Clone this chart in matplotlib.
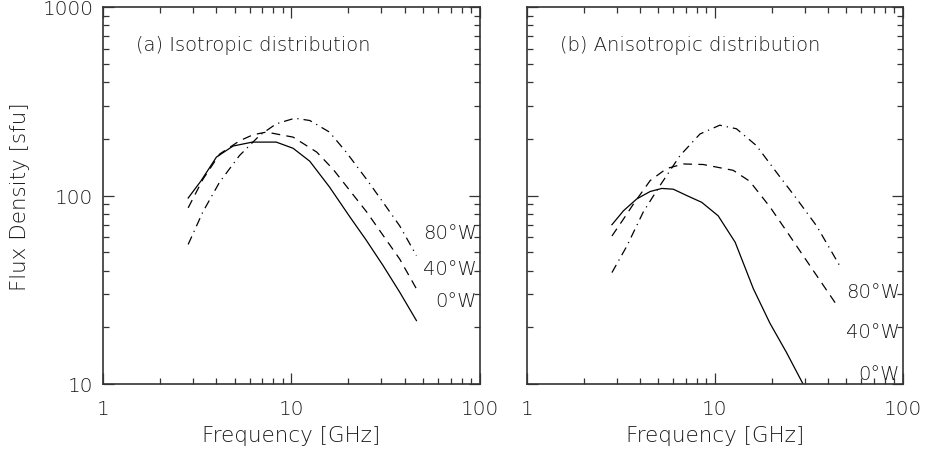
import matplotlib.pyplot as plt
from matplotlib.ticker import LogLocator, NullFormatter, FixedLocator, FixedFormatter

# panel (a) isotropic
freq_a = [2.83, 3.3, 4.0, 4.9, 6.2, 8.3, 10.2, 12.5, 15.9, 20.4, 24.9, 30.6, 37.5, 46.0]
iso_0w = [97, 119, 160, 183, 192, 192, 178, 152, 111, 77, 58, 42.5, 30.7, 21.7]
freq_a40 = [2.83, 3.39, 4.16, 5.3, 6.25, 7.35, 10.2, 13.6, 16.6, 25.0, 37.5, 46.0]
iso_40w = [86, 122, 166, 195, 210, 217, 204, 170, 138, 82, 46, 32]
freq_a80 = [2.83, 3.39, 4.16, 5.3, 6.8, 8.3, 10.4, 12.5, 15.9, 19.5, 25.0, 30.6, 37.5, 46.0]
iso_80w = [55, 82, 118, 163, 209, 240, 257, 250, 217, 170, 122, 92, 69, 48]

# panel (b) anisotropic
freq_b0 = [2.83, 3.26, 3.84, 4.52, 5.21, 6.0, 7.07, 8.5, 10.4, 12.8, 16.0, 19.6, 24.0, 29.4]
ani_0w = [70, 83, 96, 105, 109, 108, 100, 92, 78, 56.5, 32, 21, 14.7, 10.0]
freq_b40 = [2.83, 3.26, 3.68, 4.52, 5.53, 6.79, 8.67, 12.5, 15.3, 19.6, 25.0, 33.3, 44.0]
ani_40w = [61, 75, 90, 120, 139, 147, 146, 136, 119, 87, 61, 40, 26.6]
freq_b80 = [2.83, 3.4, 4.16, 5.1, 6.52, 8.32, 10.6, 13.0, 16.6, 21.2, 27.2, 34.7, 46.0]
ani_80w = [39, 54, 82, 113, 163, 212, 236, 226, 184, 133, 96, 69, 42.5]

labels = ['80°W', '40°W', '0°W']
lab_y_a = [64, 40.8, 27.9]
lab_y_b = [30.8, 19.1, 11.4]

plt.rcParams['font.family'] = 'DejaVu Sans'
plt.rcParams['font.weight'] = 'light'
plt.rcParams['axes.labelweight'] = 'light'
txt = '#1a1a1a'
fig = plt.figure(figsize=(9.29, 4.52), dpi=100)
W, H = 929, 452
ax1 = fig.add_axes([103 / W, 1 - 385 / H, 377 / W, 377 / H])
ax2 = fig.add_axes([527 / W, 1 - 385 / H, 376 / W, 377 / H])

dash = (0, (7, 5))
dashdot = (0, (7, 4, 1, 4))

for ax in (ax1, ax2):
    ax.set_xscale('log')
    ax.set_yscale('log')
    ax.set_xlim(1, 100)
    ax.set_ylim(10, 1000)
    ax.tick_params(which='both', direction='in', top=True, right=True,
                   color='#333333', width=0.9)
    ax.tick_params(which='major', length=8, labelsize=14.5, colors='#333333')
    ax.tick_params(axis='x', which='major', pad=11, labelcolor=txt)
    ax.tick_params(axis='y', which='major', pad=7, labelcolor=txt)
    ax.tick_params(which='minor', length=4)
    ax.xaxis.set_major_locator(FixedLocator([1, 10, 100]))
    ax.xaxis.set_major_formatter(FixedFormatter(['1', '10', '100']))
    ax.xaxis.set_minor_locator(LogLocator(base=10, subs=range(2, 10)))
    ax.xaxis.set_minor_formatter(NullFormatter())
    ax.yaxis.set_major_locator(FixedLocator([10, 100, 1000]))
    ax.yaxis.set_minor_locator(LogLocator(base=10, subs=range(2, 10)))
    ax.yaxis.set_minor_formatter(NullFormatter())
    for s in ax.spines.values():
        s.set_linewidth(1.2)
        s.set_color('#333333')
    ax.set_xlabel('Frequency [GHz]', fontsize=15.5, color=txt, labelpad=5)

ax1.yaxis.set_major_formatter(FixedFormatter(['10', '100', '1000']))
ax1.set_ylabel('Flux Density [sfu]', fontsize=15.5, color=txt, labelpad=9)
ax2.yaxis.set_major_formatter(NullFormatter())

ax1.plot(freq_a, iso_0w, color='black', lw=0.9)
ax1.plot(freq_a40, iso_40w, color='black', lw=0.9, linestyle=dash)
ax1.plot(freq_a80, iso_80w, color='black', lw=0.9, linestyle=dashdot)

ax2.plot(freq_b0, ani_0w, color='black', lw=0.9)
ax2.plot(freq_b40, ani_40w, color='black', lw=0.9, linestyle=dash)
ax2.plot(freq_b80, ani_80w, color='black', lw=0.9, linestyle=dashdot)

ax1.text(1.5, 630, '(a) Isotropic distribution', fontsize=14, color=txt, va='center')
ax2.text(1.5, 630, '(b) Anisotropic distribution', fontsize=14, color=txt, va='center')

for lab, ya, yb in zip(labels, lab_y_a, lab_y_b):
    ax1.text(96, ya, lab, fontsize=14, color=txt, ha='right', va='center')
    ax2.text(96, yb, lab, fontsize=14, color=txt, ha='right', va='center')

fig.savefig('out.png', dpi=100)
